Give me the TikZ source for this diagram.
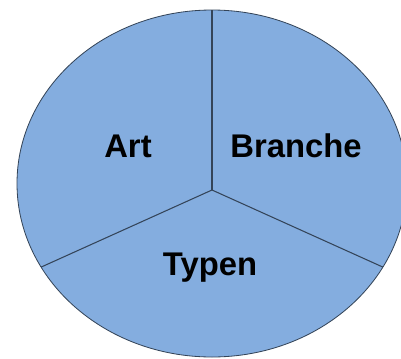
\documentclass[tikz,border=0pt]{standalone}
\usepackage{fontspec}
\setmainfont{Liberation Sans}
\definecolor{pieblue}{RGB}{132,173,223}
\definecolor{pieline}{RGB}{52,68,88}
\usetikzlibrary{positioning,calc}
\tikzset{
    slicelabel/.style={font=\fontsize{28}{34}\selectfont\bfseries, anchor=base, inner sep=0pt},
    divider/.style={draw=pieline, line width=0.9pt}
}

\begin{document}
\begin{tikzpicture}[x=0.03cm, y=-0.03cm]
    \useasboundingbox (0,0) rectangle (401,358);
    \coordinate (mid) at (212,183.5);
    \begin{scope}
        \clip (0,0) rectangle (401,358);
        \draw[fill=pieblue, draw=pieline, line width=0.7pt] (mid) ellipse [x radius=195, y radius=173.5];
    \end{scope}
    % junction and rim points
    \coordinate (hub) at (212,190);
    \coordinate (rimtop) at ($(mid)+(-90:195 and 173.5)$);
    \coordinate (rimleft) at ($(mid)+(151.2:195 and 173.5)$);
    \coordinate (rimright) at ($(mid)+(28.8:195 and 173.5)$);
    \draw[divider] (hub) -- (rimtop);
    \draw[divider] (hub) -- (rimleft);
    \draw[divider] (hub) -- (rimright);
    % labels
    \node[slicelabel] (art) at (128,157) {Art};
    \node[slicelabel] (branche) at (296,157) {Branche};
    \node[slicelabel] (typen) at (210,275) {Typen};
\end{tikzpicture}
\end{document}
